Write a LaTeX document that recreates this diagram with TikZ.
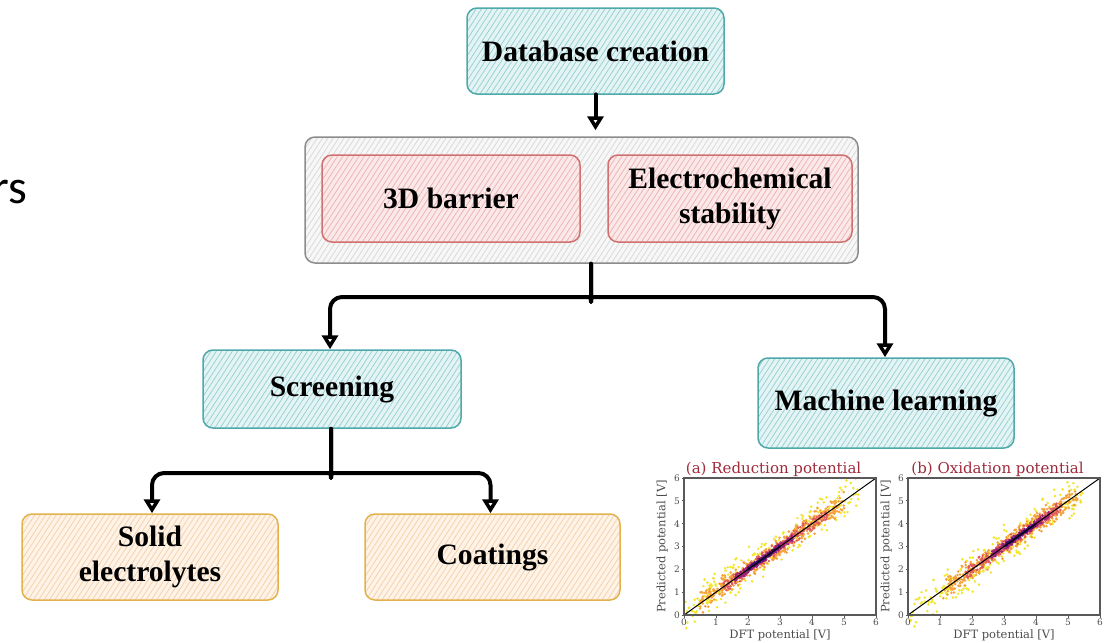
\documentclass[tikz,border=0pt]{standalone}
\usepackage{fontspec}
\setmainfont{Liberation Serif}
\newfontfamily\slidefont{Carlito}
\newfontfamily\plotfont{DejaVu Serif}
\usetikzlibrary{arrows.meta,patterns.meta,calc}

\definecolor{tealline}{HTML}{4FA8AA}
\definecolor{tealfill}{HTML}{E4F3F4}
\definecolor{tealhatch}{HTML}{92CFD3}
\definecolor{redline}{HTML}{D07070}
\definecolor{redfill}{HTML}{FBE8E8}
\definecolor{redhatch}{HTML}{ECB0B0}
\definecolor{orangeline}{HTML}{E3B24C}
\definecolor{orangefill}{HTML}{FEF3E6}
\definecolor{orangehatch}{HTML}{F3CFA8}
\definecolor{greyline}{HTML}{8C8C8C}
\definecolor{greyfill}{HTML}{F7F7F7}
\definecolor{greyhatch}{HTML}{D6D6D6}
\definecolor{titlered}{HTML}{9E2A3A}
\definecolor{dotyellow}{HTML}{F2E52E}
\definecolor{dotorange}{HTML}{F6A23C}
\definecolor{dotpink}{HTML}{DE5A5C}
\definecolor{dotmagenta}{HTML}{9A2178}
\definecolor{dotpurple}{HTML}{3A0F6E}

\tikzset{
  sketch/.style={rounded corners=10pt, line width=1.5pt, align=center,
    font=\fontsize{29.6}{35}\selectfont\bfseries},
  tealbox/.style={sketch, draw=tealline, preaction={fill=tealfill},
    pattern={Lines[angle=57,distance=4.5pt,line width=0.7pt]}, pattern color=tealhatch},
  redbox/.style={sketch, draw=redline, preaction={fill=redfill},
    pattern={Lines[angle=57,distance=4.5pt,line width=0.7pt]}, pattern color=redhatch},
  orangebox/.style={sketch, draw=orangeline, preaction={fill=orangefill},
    pattern={Lines[angle=57,distance=4.5pt,line width=0.7pt]}, pattern color=orangehatch},
  greybox/.style={sketch, draw=greyline, preaction={fill=greyfill},
    pattern={Lines[angle=57,distance=4.5pt,line width=0.7pt]}, pattern color=greyhatch},
  wire/.style={line width=4pt, line cap=round, line join=round},
  flow/.style={wire, -{Triangle[open,length=14pt,width=16pt,line width=3.5pt]}},
  tick/.style={font=\plotfont\fontsize{9}{9}\selectfont, text=black!70, inner sep=1.2pt},
}

\begin{document}
\begin{tikzpicture}[x=1pt,y=-1pt]
\useasboundingbox (0,0) rectangle (1112,643);

% cut-off slide text on the left
\node[font=\slidefont\fontsize{48}{50}\selectfont, anchor=base east, inner sep=0pt] (slide) at (27,203) {rs};

% boxes
\node[tealbox, minimum width=257pt, minimum height=86pt] (db) at (595.5,51) {Database creation};
\node[greybox, minimum width=553pt, minimum height=126pt] (calc) at (581.5,200) {};
\node[redbox, minimum width=258pt, minimum height=87pt] (barrier) at (451,198.5) {3D barrier};
\node[redbox, minimum width=244pt, minimum height=87pt] (stab) at (730,198.5) {Electrochemical\\stability};
\node[tealbox, minimum width=258pt, minimum height=78pt] (screen) at (332,389) {Screening};
\node[tealbox, minimum width=256pt, minimum height=90pt] (ml) at (886,403) {Machine learning};
\node[orangebox, minimum width=256pt, minimum height=86pt] (solid) at (150,557) {Solid\\electrolytes};
\node[orangebox, minimum width=255pt, minimum height=86pt] (coat) at (492.5,557) {Coatings};

% connectors
\draw[flow, shorten >=6pt] (db.south) -- (db.south |- calc.north);

\coordinate (fork1) at (591,297);
\draw[flow, rounded corners=12pt] (fork1 |- calc.south) -- ([yshift=7pt]fork1)
  to[out=-90,in=0] ([xshift=-10pt]fork1) -| ([xshift=-2pt]screen.north);
\draw[flow, rounded corners=12pt] (fork1 |- calc.south) -- ([yshift=7pt]fork1)
  to[out=-90,in=180] ([xshift=10pt]fork1) -| ([xshift=-1pt]ml.north);

\coordinate (fork2) at (331,473);
\draw[flow, rounded corners=12pt] (fork2 |- screen.south) -- ([yshift=7pt]fork2)
  to[out=-90,in=0] ([xshift=-10pt]fork2) -| ([xshift=2pt]solid.north);
\draw[flow, rounded corners=12pt] (fork2 |- screen.south) -- ([yshift=7pt]fork2)
  to[out=-90,in=180] ([xshift=10pt]fork2) -| ([xshift=-2pt]coat.north);

% parity plots
\pgfmathsetseed{7}
\foreach \p/\px/\ttl/\lo/\hi/\mid in {a/684/{(a) Reduction potential}/1.2/4.5/2.5,
                                     b/908/{(b) Oxidation potential}/1.8/4.8/3.5} {
  \begin{scope}[shift={(\px,615)}, x=32pt, y=22.83pt]
    % scattered points, widest first
    \foreach \i in {1,...,260} {
      \pgfmathsetmacro\u{0.05+5.4*rnd}
      \pgfmathsetmacro\v{\u+1.0*(rand+rand)/2}
      \fill[dotyellow] (\u,\v) circle (1.4pt);
    }
    \foreach \i in {1,...,420} {
      \pgfmathsetmacro\u{\lo-0.7+(\hi-\lo+1.2)*rnd}
      \pgfmathsetmacro\v{\u+0.55*(rand+rand)/2}
      \fill[dotorange] (\u,\v) circle (1.4pt);
    }
    \foreach \i in {1,...,300} {
      \pgfmathsetmacro\u{\lo+(\hi-\lo)*rnd}
      \pgfmathsetmacro\v{\u+0.32*(rand+rand)/2}
      \fill[dotpink] (\u,\v) circle (1.3pt);
    }
    \foreach \i in {1,...,220} {
      \pgfmathsetmacro\u{\mid-0.9+1.8*rnd}
      \pgfmathsetmacro\v{\u+0.18*(rand+rand)/2}
      \fill[dotmagenta] (\u,\v) circle (1.3pt);
    }
    \foreach \i in {1,...,120} {
      \pgfmathsetmacro\u{\mid-0.5+1.0*rnd}
      \pgfmathsetmacro\v{\u+0.1*(rand+rand)/2}
      \fill[dotpurple] (\u,\v) circle (1.2pt);
    }
    \draw[line width=1pt] (0,0) -- (6,6);
    \draw[black!65, line width=1.2pt] (0,0) rectangle (6,6);
    \foreach \t in {0,...,6} {
      \draw[black!65, line width=0.8pt] (\t,0) -- ++(0,-2.5pt) node[tick, anchor=north] (xt\p\t) {\t};
      \draw[black!65, line width=0.8pt] (0,\t) -- ++(-2.5pt,0) node[tick, anchor=east] (yt\p\t) {\t};
    }
    \node[font=\plotfont\fontsize{11.5}{12}\selectfont, text=black!70, anchor=base] (xl\p) at (3,-1.05) {DFT potential [V]};
    \node[font=\plotfont\fontsize{11.5}{12}\selectfont, text=black!70, rotate=90] (yl\p) at (-0.68,3) {Predicted potential [V]};
    \node[font=\plotfont\fontsize{15}{16}\selectfont, text=titlered, anchor=base] (tt\p) at (2.8,6.2) {\ttl};
  \end{scope}
}
\end{tikzpicture}
\end{document}
